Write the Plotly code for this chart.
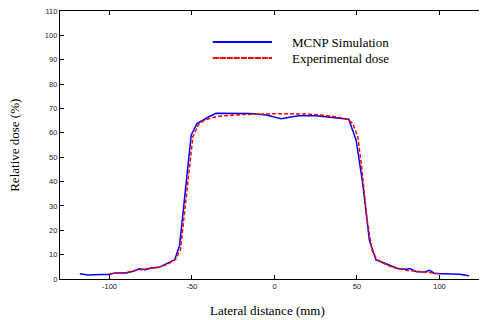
import plotly.graph_objects as go

# MCNP Simulation (blue, solid)
mcnp_x = [-118, -113, -105, -100, -97, -90, -85, -82, -78, -75, -70, -65, -60.5,
          -57.5, -55, -52.5, -50.5, -47, -44, -40, -35.5, -25, -15, -5, 0, 4, 10,
          15, 25, 35, 45, 49.5, 53.5, 57.5, 61.5, 65, 70, 75, 80, 82, 86, 91, 94,
          97, 102, 107, 112, 118]
mcnp_y = [2.2, 1.6, 1.8, 1.8, 2.5, 2.5, 3.3, 4.2, 3.8, 4.5, 4.8, 6.3, 7.9,
          13.8, 30, 47, 59, 63.8, 65, 66.5, 68, 68, 67.9, 67.3, 66.3, 65.8, 66.5,
          67, 67, 66.3, 65.6, 57, 39, 16, 7.8, 7, 5.5, 4.2, 4, 4.3, 3, 2.9, 3.6,
          2.3, 2.2, 2.2, 1.9, 1.3]

# Experimental dose (red, dashed)
exp_x = [-100, -95, -90, -85, -80, -75, -70, -65, -60, -57, -55, -52, -49.5, -46,
         -42, -36, -30, -20, -10, 0, 10, 20, 30, 38, 44, 47.5, 50.5, 53, 56, 59,
         62, 65, 70, 75, 80, 85, 90, 95, 100]
exp_y = [2.2, 2.5, 2.6, 3.5, 4, 4.3, 4.8, 6, 8, 12, 25, 45, 58.3, 63.5,
         65.3, 66.5, 67, 67.5, 67.8, 67.8, 67.8, 67.7, 67.2, 66.5, 65.6, 63.8, 58.3, 45, 25, 12,
         8, 6.8, 5.2, 4.2, 3.6, 3.3, 3, 2.5, 2.2]

x_ticks = [-100, -50, 0, 50, 100]
x_tick_labels = ["-100", "-50", "0", "50", "100"]
y_ticks = [0, 10, 20, 30, 40, 50, 60, 70, 80, 90, 100, 110]

legend_names = ["MCNP Simulation", "Experimental dose"]
BLUE = "#0000ff"
RED = "#ff0000"

fig = go.Figure()
fig.add_trace(go.Scatter(x=mcnp_x, y=mcnp_y, mode="lines", name=legend_names[0],
                         line=dict(color=BLUE, width=1.5), showlegend=False))
fig.add_trace(go.Scatter(x=exp_x, y=exp_y, mode="lines", name=legend_names[1],
                         line=dict(color=RED, width=1.5, dash="4px,2px"), showlegend=False))

axis_common = dict(showgrid=False, zeroline=False, showline=True, linecolor="black",
                   linewidth=1.3, mirror="ticks", ticks="inside", ticklen=4,
                   tickcolor="black", tickwidth=1, ticklabeloverflow="allow",
                   tickfont=dict(family="Liberation Sans, Arial", size=7.5, color="#222"))

fig.update_xaxes(range=[-130, 128.8], tickvals=x_ticks, ticktext=x_tick_labels, **axis_common)
fig.update_yaxes(range=[0, 110], tickvals=y_ticks, **axis_common)

# manual legend
leg_y = [0.884, 0.8246]
for name, col, dash, yy in zip(legend_names, [BLUE, RED], ["solid", "6px,1px"], leg_y):
    fig.add_shape(type="line", xref="paper", yref="paper", x0=0.358, x1=0.4965,
                  y0=yy, y1=yy, line=dict(color=col, width=2, dash=dash))
    fig.add_annotation(text=name, xref="paper", yref="paper", x=0.5386, y=yy,
                       xanchor="left", yanchor="middle", showarrow=False,
                       font=dict(family="Liberation Serif, Times New Roman", size=13,
                                 color="black"))

fig.add_annotation(text="Lateral distance (mm)", xref="paper", yref="paper",
                   x=0.487, y=0, yshift=-31.3, xanchor="center", yanchor="middle",
                   showarrow=False,
                   font=dict(family="Liberation Serif, Times New Roman", size=13, color="black"))
fig.add_annotation(text="Relative dose (%)", xref="paper", yref="paper",
                   x=0, xshift=-45, y=0.497, textangle=-90, xanchor="center",
                   yanchor="middle", showarrow=False,
                   font=dict(family="Liberation Serif, Times New Roman", size=13, color="black"))

# page body has an 8px margin: figure is sized so the plot lands where the reference has it
fig.update_layout(width=479, height=312,
                  margin=dict(l=52, r=0, t=2.7, b=41.3, pad=0),
                  paper_bgcolor="white", plot_bgcolor="white")

fig.write_html("out.html")
